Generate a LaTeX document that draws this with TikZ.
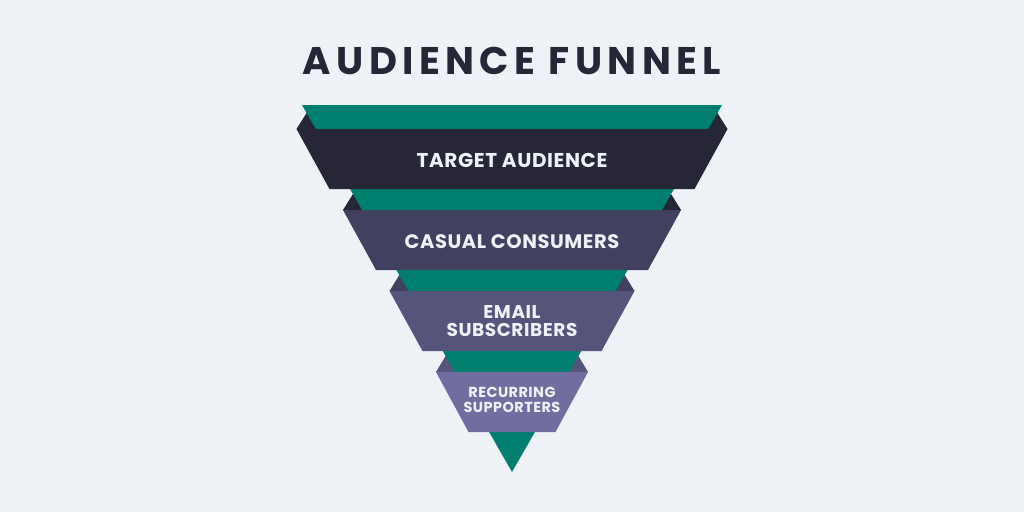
\documentclass[tikz,border=0pt]{standalone}
\usepackage{fontspec}
\setmainfont{Poppins}
\newfontfamily\titlefont[LetterSpace=14]{Poppins}
\newfontfamily\bandfont[LetterSpace=3]{Poppins}
\definecolor{bg}{HTML}{EEF2F7}
\definecolor{ink}{HTML}{262637}
\definecolor{teal}{HTML}{007F6F}
\definecolor{band1}{HTML}{262637}
\definecolor{band2}{HTML}{41405F}
\definecolor{band3}{HTML}{55547B}
\definecolor{band4}{HTML}{6F6E9F}
\tikzset{lbl/.style={text=bg, align=center, inner sep=0pt}}
\begin{document}
\begin{tikzpicture}[x=1pt, y=-1pt]
\useasboundingbox[fill=bg] (0,0) rectangle (1024,512);
\node[ink, inner sep=0pt, font=\titlefont\bfseries\fontsize{38.5}{40}\selectfont] (title) at (512,60.5){AUDIENCE FUNNEL};
% flaps
\fill[band1] (296.5,129) -- (306.6,113) -- (330,129) -- cycle;
\fill[band1] (727.5,129) -- (717.4,113) -- (694,129) -- cycle;
\fill[band1] (343,210) -- (353,194) -- (375,210) -- cycle;
\fill[band1] (681,210) -- (671,194) -- (649,210) -- cycle;
\fill[band2] (389.5,291) -- (399.3,275) -- (422,291) -- cycle;
\fill[band2] (634.5,291) -- (624.7,275) -- (602,291) -- cycle;
\fill[band3] (436,372) -- (445.6,356) -- (468,372) -- cycle;
\fill[band3] (588,372) -- (578.4,356) -- (556,372) -- cycle;
% funnel
\fill[teal] (302,105) -- (722,105) -- (512,472) -- cycle;
\fill[band1] (296.5,129) -- (727.5,129) -- (694.5,189) -- (329.5,189) -- cycle;
\fill[band2] (343,210) -- (681,210) -- (648,270) -- (376,270) -- cycle;
\fill[band3] (389.5,291) -- (634.5,291) -- (601.5,351) -- (422.5,351) -- cycle;
\fill[band4] (436,372) -- (588,372) -- (555.5,432) -- (468.5,432) -- cycle;
% labels
\node[lbl, font=\bandfont\bfseries\fontsize{20}{20}\selectfont] (lvl1) at (512,160){TARGET AUDIENCE};
\node[lbl, font=\bandfont\bfseries\fontsize{19.5}{20}\selectfont] (lvl2) at (512,241.5){CASUAL CONSUMERS};
\node[lbl, font=\bandfont\bfseries\fontsize{18.5}{18}\selectfont] (lvl3) at (512,321.5){EMAIL\\SUBSCRIBERS};
\node[lbl, font=\bandfont\bfseries\fontsize{14.5}{14.5}\selectfont] (lvl4) at (512,400){RECURRING\\SUPPORTERS};
\end{tikzpicture}
\end{document}
